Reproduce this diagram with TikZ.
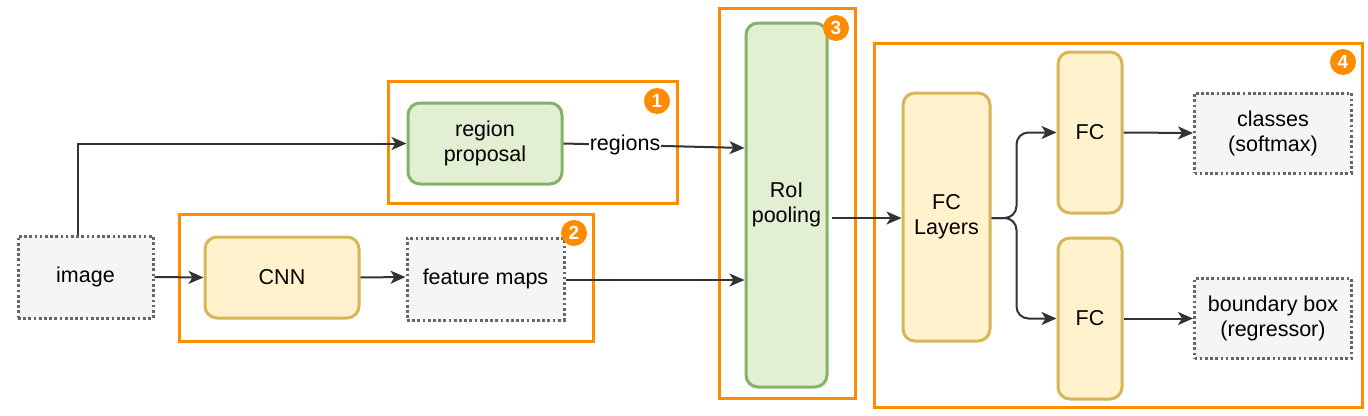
\documentclass[tikz,border=0pt]{standalone}
\usepackage{fontspec}
\setmainfont{Liberation Sans}
\usetikzlibrary{arrows.meta,calc}
\definecolor{orng}{HTML}{FF8C00}
\definecolor{grnfill}{HTML}{E2EFD3}
\definecolor{grnline}{HTML}{82B366}
\definecolor{yelfill}{HTML}{FFF2CC}
\definecolor{yelline}{HTML}{D6B656}
\definecolor{dotfill}{HTML}{F5F5F5}
\definecolor{dotline}{HTML}{666666}
\definecolor{arrc}{HTML}{333333}
\begin{document}
\begin{tikzpicture}[x=1pt,y=-1pt,
  font=\fontsize{21.5}{25}\selectfont,
  box/.style={draw, line width=3pt, rounded corners=12pt, align=center, inner sep=0pt},
  greenbox/.style={box, draw=grnline, fill=grnfill},
  yelbox/.style={box, draw=yelline, fill=yelfill},
  dotbox/.style={draw=dotline, fill=dotfill, line width=3pt, dash pattern=on 2.7pt off 2.5pt, align=center, inner sep=0pt},
  group/.style={draw=orng, line width=3pt},
  badge/.style={circle, fill=orng, text=white, font=\fontsize{19}{19}\selectfont\bfseries, minimum size=26pt, inner sep=0pt},
  arr/.style={draw=arrc, line width=2pt, -{Stealth[length=15pt,width=13pt,inset=4pt]}}
]
\useasboundingbox (0,0) rectangle (1368,415);
% groups
\draw[group] (388,81) rectangle (677,203);
\draw[group] (179,214) rectangle (593,341);
\draw[group] (719,8) rectangle (855,398);
\draw[group] (874,43) rectangle (1362,407);
% nodes
\node[dotbox, minimum width=135pt, minimum height=82pt] (img) at (85.5,277) {image};
\node[yelbox, minimum width=154pt, minimum height=81pt] (cnn) at (282,277.5) {CNN};
\node[dotbox, minimum width=157pt, minimum height=82pt] (fm) at (485.5,279) {feature maps};
\node[greenbox, minimum width=154pt, minimum height=81pt] (rp) at (485,143.5) {region\\proposal};
\node[greenbox, minimum width=81pt, minimum height=364pt] (roi) at (786.5,205) {RoI\\pooling};
\node[yelbox, minimum width=87pt, minimum height=248pt] (fcl) at (946.5,217) {FC\\Layers};
\node[yelbox, minimum width=64pt, minimum height=161pt] (fc1) at (1090,132.5) {FC};
\node[yelbox, minimum width=64pt, minimum height=161pt] (fc2) at (1090,318.5) {FC};
\node[dotbox, minimum width=157pt, minimum height=80pt] (cls) at (1273,133) {classes\\(softmax)};
\node[dotbox, minimum width=157pt, minimum height=80pt] (bb) at (1273,318.5) {boundary box\\(regressor)};
% badges
\node[badge] (b1) at (657,101) {1};
\node[badge] (b2) at (574,233) {2};
\node[badge] (b3) at (836,28) {3};
\node[badge] (b4) at (1343,62) {4};
% connectors
\draw[arr] ([xshift=-8pt]img.north) |- (rp.west);
\draw[arr] (img.east) -- (cnn.west);
\draw[arr] (cnn.east) -- ([yshift=2pt]fm.west);
\coordinate (roiA) at (roi.west |- 0,148);
\coordinate (roiB) at (roi.west |- 0,280);
\draw[arr] (rp.east) -- node[pos=0.34, fill=white, inner sep=1pt] (lbl) {regions} (roiA);
\draw[arr] (fm.east |- roiB) -- (roiB);
\coordinate (roiC) at (roi.east |- 0,218);
\draw[arr] ([xshift=3pt]roiC) -- (fcl.west |- roiC);
\draw[arr, rounded corners=12pt] (fcl.east |- roiC) -- ++(25,0) |- (fc1.west);
\draw[arr, rounded corners=12pt] (fcl.east |- roiC) -- ++(25,0) |- (fc2.west);
\draw[arr] (fc1.east) -- (cls.west);
\draw[arr] (fc2.east) -- (bb.west);
\end{tikzpicture}
\end{document}
